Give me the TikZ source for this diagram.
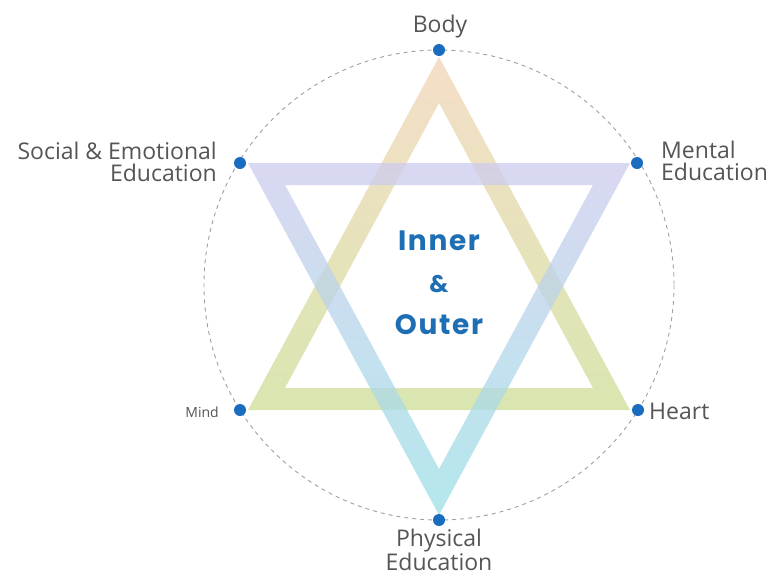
\documentclass[tikz,border=0pt]{standalone}
\usepackage{fontspec}
\setmainfont{Open Sans}
\newfontfamily\geofont[LetterSpace=6]{Poppins}
\definecolor{labelgray}{RGB}{85,85,85}
\definecolor{dotblue}{RGB}{26,108,190}
\definecolor{titleblue}{RGB}{30,110,180}
\definecolor{ringgray}{RGB}{160,160,160}
\definecolor{upTop}{RGB}{242,212,182}
\definecolor{upBot}{RGB}{205,222,150}
\definecolor{dnTop}{RGB}{205,203,238}
\definecolor{dnBot}{RGB}{155,224,230}
\begin{document}
\begin{tikzpicture}[x=1pt,y=-1pt,
  lbl/.style={font=\fontsize{23}{22}\selectfont, text=labelgray, inner sep=0pt},
  dot/.style={circle, fill=dotblue, minimum size=12pt, inner sep=0pt},
  band/.style={even odd rule, fill opacity=0.75}]
\useasboundingbox (0,0) rectangle (771,576);
\fill[white] (0,0) rectangle (771,576);

% dashed ring through the six points
\draw[ringgray, line width=0.9pt, dash pattern=on 4pt off 4pt] (439,285) circle[radius=235];

% upward triangle band
\shade[band, top color=upTop, bottom color=upBot]
  (439,57) -- (248,410) -- (630,410) -- cycle
  (439,103) -- (285,388) -- (593,388) -- cycle;
% downward triangle band
\shade[band, top color=dnTop, bottom color=dnBot]
  (248,163) -- (630,163) -- (439,515) -- cycle
  (285,185) -- (593,185) -- (439,469) -- cycle;

% points on the ring
\node[dot] (body) at (439,50) {};
\node[dot] (social) at (240,163) {};
\node[dot] (mental) at (637,163) {};
\node[dot] (mind) at (240,410) {};
\node[dot] (heart) at (638,410) {};
\node[dot] (physical) at (439,520) {};

% labels
\node[lbl, anchor=south] (tbody) at (440,38) {Body};
\node[lbl, anchor=east, align=right] (tsocial) at (217,162) {Social \& Emotional\\Education};
\node[lbl, anchor=west, align=left] (tmental) at (661,161) {Mental\\Education};
\node[lbl, anchor=east, font=\fontsize{14}{16}\selectfont] (tmind) at (219,412) {Mind};
\node[lbl, anchor=west] (theart) at (649,411) {Heart};
\node[lbl, anchor=north, align=center] (tphys) at (439,529) {Physical\\Education};

% centre title
\node[text=titleblue, font=\geofont\bfseries\fontsize{28}{42}\selectfont, align=center, inner sep=0pt] (title) at (439,283)
  {Inner\\{\fontsize{24}{42}\selectfont\&}\\Outer};
\end{tikzpicture}
\end{document}
